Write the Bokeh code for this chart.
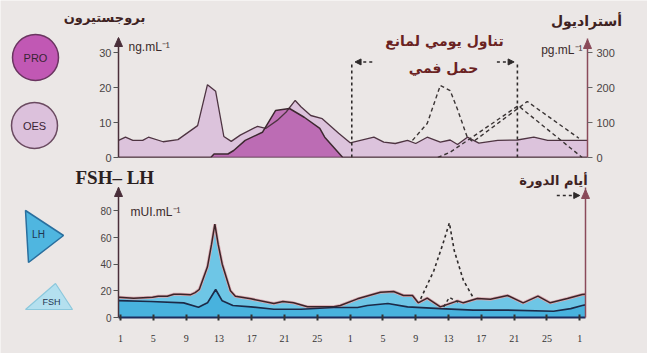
from bokeh.plotting import figure
from bokeh.layouts import column
from bokeh.models import Range1d, LinearAxis, FixedTicker, Arrow, NormalHead
from bokeh.core.properties import value
from bokeh.embed import file_html
from bokeh.resources import INLINE

# ---------------- data (continuous day index: 1..57 = two cycles + day 1) ----------------
oes_days = [0.76, 1.6, 2.5, 3.7, 4.4, 6.2, 8.0, 10.4, 11.6, 12.6, 13.6, 14.5, 15.6, 17.7, 18.7,
            20.1, 21.2, 22.3, 23.0, 24.2, 25.6, 27.6, 29.0, 31.9, 33.1, 34.5, 36.0, 37.0, 38.4,
            40.0, 41.2, 42.1, 43.3, 44.7, 47.0, 49.4, 51.4, 53.1, 58.0]
oes_pg = [49, 58, 49, 49, 58, 45, 51, 91, 208, 189, 60, 46, 64, 89, 83,
          106, 130, 163, 145, 120, 111, 69, 42, 58, 44, 40, 49, 40, 58,
          44, 50, 37, 58, 41, 49, 50, 58, 49, 49]

pro_days = [0.76, 12.0, 12.4, 14.1, 14.8, 16.2, 18.3, 19.9, 21.6, 23.4, 25.3, 25.9, 28.1, 58.0]
pro_ng = [0, 0, 1, 1, 2, 4.9, 7.2, 13.4, 14, 11.5, 8.3, 5.8, 0, 0]

# normal-cycle references (dashed)
de_days = [36.6, 38.4, 40.0, 41.2, 42.1, 43.3, 44.0, 50.6, 56.9]
de_pg = [49, 97, 206, 191, 137, 57, 45, 160, 55]
dp_days = [39.7, 41.2, 49.5, 57.3]
dp_ng = [0, 1.5, 14.8, 0]

pill_days = [29.2, 49.4]   # start / end of daily oral contraceptive intake
pill_top = 27.3

lh_days = [0.76, 2.6, 4.9, 5.6, 6.7, 7.5, 8.3, 9.5, 10.1, 10.6, 11.6, 12.1, 12.5, 12.9, 13.4,
           14.4, 15.0, 16.9, 19.7, 20.8, 22.1, 23.8, 27.0, 27.8, 29.9, 32.7, 34.3, 35.5, 36.6,
           37.3, 38.4, 40.0, 42.1, 42.8, 44.5, 46.1, 48.2, 50.1, 51.9, 53.4, 55.5, 57.3, 57.7]
lh = [15.2, 14.5, 15.2, 16, 16, 17.5, 17.5, 17, 18.7, 21, 38, 55, 70, 55, 40,
      20, 16, 14, 10.5, 12, 11, 8, 8, 9, 14, 19, 19.5, 16.5, 16.5,
      11, 14.5, 8, 12.5, 11, 14.2, 13.7, 16.5, 11, 16, 11, 14.2, 17.2, 17.5]

fsh_days = [0.76, 4.7, 8.7, 10.5, 11.6, 12.6, 13.4, 14.7, 16.9, 19.7, 23.0, 27.0, 29.9, 31.1,
            33.6, 36.0, 40.0, 44.0, 48.2, 53.8, 55.9, 57.3, 57.7]
fsh = [12.7, 12, 11, 7.7, 11, 21, 12.5, 9, 8, 6.2, 6.2, 7.5, 7.5, 9,
       10.5, 8, 6.7, 5.5, 5.5, 4.7, 6.7, 9, 9.5]

dlh_days = [37.6, 39.2, 40.3, 41.1, 41.7, 42.8, 44.0]
dlh = [14, 35, 55, 71, 50, 28, 15]
dfsh_days = [40.4, 41.1, 42.5]
dfsh = [8, 15, 10.5]

day_ticks = [1, 5, 9, 13, 17, 21, 25, 29, 33, 37, 41, 45, 49, 53, 57]
day_labels = ["1", "5", "9", "13", "17", "21", "25", "1", "5", "9", "13", "17", "21", "25", "1"]

# ---------------- style ----------------
BG = "#ebe7e6"
OES_FILL = "#dcc3dc"
PRO_FILL = "#b453a9"
DARK = "#3d2830"
AXC = "#4a2f3a"
RAX = "#8a4a5a"
TXT = "#3e2222"
RED = "#6a2222"
DSH = "#2e2a2a"
AR = "DejaVu Sans"

# ================= background / decoration layer (canvas pixels) =================
p0 = figure(width=647, height=353, x_range=Range1d(0, 647), y_range=Range1d(353, 0),
            output_backend="svg", toolbar_location=None, min_border=0, frame_align=False,
            background_fill_color=BG, border_fill_color=BG, outline_line_color=None)
p0.axis.visible = False
p0.grid.visible = False


def t(x, y, s, size, color=TXT, font=AR, style="bold", align="center"):
    p0.text(x=[x], y=[y], text=[s], text_font=value(font), text_font_size=size,
            text_font_style=style, text_color=color, text_align=align, text_baseline="middle")


# legend badges
p0.ellipse(x=[35], y=[57], width=46, height=46, fill_color="#c158b4", line_color="#6a3560", line_width=1.5)
p0.ellipse(x=[34], y=[125], width=46, height=46, fill_color="#dcc1dc", line_color="#6a4a60", line_width=1.5)
p0.patch([25, 63, 28], [210, 235, 262], fill_color="#4fb6e0", line_color="#2a6f9e", line_width=1.5)
p0.patch([55, 25, 72], [283, 309, 309], fill_color="#b4e0ef", line_color="#8cc8dc", line_width=1.2)
t(35, 57, "PRO", "11px", color="#3a2434", font="Liberation Sans", style="normal")
t(34, 125, "OES", "11px", color="#3a2434", font="Liberation Sans", style="normal")
t(38, 234, "LH", "10px", color="#1f3550", font="Liberation Sans", style="normal")
t(51, 301, "FSH", "9px", color="#1f3550", font="Liberation Sans", style="normal")

# axis arrow heads
p0.patch([114, 118, 122], [46, 37, 46], fill_color=AXC, line_color=AXC)
p0.patch([583, 587, 591], [48, 39, 48], fill_color=RAX, line_color=RAX)
p0.patch([114, 118, 122], [196, 187, 196], fill_color=AXC, line_color=AXC)
p0.patch([581, 585, 589], [198, 189, 198], fill_color=RAX, line_color=RAX)

# titles and units
t(104, 17, "بروجستيرون", "13px")
t(586, 20, "أستراديول", "14px")
t(444, 40, "تناول يومي لمانع", "14px", color=RED)
t(443, 67, "حمل فمي", "14px", color=RED)
t(128, 46, "ng.mL⁻¹", "12px", color="#3a2a2a", font="Liberation Sans", style="normal", align="left")
t(582, 49, "pg.mL⁻¹", "12px", color="#3a2a2a", font="Liberation Sans", style="normal", align="right")
t(75, 177, "FSH– LH", "19px", color="#2a2020", font="Liberation Serif", align="left")
t(130, 211, "mUI.mL⁻¹", "12px", color="#3a2a2a", font="Liberation Sans", style="normal", align="left")
t(553, 180, "أيام الدورة", "13px")

# ================= upper panel =================
p1 = figure(width=647, height=165, x_range=Range1d(0.75, 57.95), y_range=Range1d(0, 34),
            output_backend="svg", toolbar_location=None, frame_align=False,
            min_border_left=118, min_border_right=60, min_border_top=38, min_border_bottom=8,
            background_fill_alpha=0, border_fill_alpha=0, outline_line_color=None,
            styles={"margin-top": "-353px"})
p1.grid.visible = False
p1.xaxis.visible = False
p1.extra_y_ranges = {"oes": Range1d(0, 340)}

p1.varea(x=oes_days, y1=0, y2=oes_pg, y_range_name="oes", fill_color=OES_FILL, fill_alpha=1)
p1.varea(x=pro_days, y1=0, y2=pro_ng, fill_color=PRO_FILL, fill_alpha=0.78)
p1.line(oes_days, oes_pg, y_range_name="oes", line_color="#4e3442", line_width=1.3)
p1.line(pro_days, pro_ng, line_color=DARK, line_width=1.5)
p1.line(de_days, de_pg, y_range_name="oes", line_color="#3a3434", line_width=1.4, line_dash="4 3")
p1.line(dp_days, dp_ng, line_color="#3a3434", line_width=1.4, line_dash="4 3")
p1.segment(x0=pill_days, y0=[0, 0], x1=pill_days, y1=[pill_top, pill_top],
           line_color=DSH, line_width=1.6, line_dash="3 3")
p1.line(x=[0.75, 57.95], y=[0, 0], line_color=AXC, line_width=1.5)

ya = p1.yaxis[0]
ya.ticker = FixedTicker(ticks=[0, 10, 20, 30])
ya.axis_line_color = AXC
ya.axis_line_width = 1.5
ya.major_tick_line_color = "#555"
ya.major_tick_out = 5
ya.major_tick_in = 0
ya.minor_tick_line_color = None
ya.major_label_standoff = 2
ya.major_label_text_font = "Liberation Sans"
ya.major_label_text_font_size = "11px"
ya.major_label_text_color = "#4a4444"

ra = LinearAxis(y_range_name="oes", ticker=FixedTicker(ticks=[0, 100, 200, 300]),
                axis_line_color=RAX, axis_line_width=1.5, major_tick_line_color="#666",
                major_tick_out=5, major_tick_in=0, minor_tick_line_color=None,
                major_label_standoff=4, major_label_text_font="Liberation Sans",
                major_label_text_font_size="11px", major_label_text_color="#4a4444")
p1.add_layout(ra, "right")

p1.add_layout(Arrow(end=NormalHead(size=6, fill_color=DSH, line_color=DSH),
                    x_start=31.7, y_start=pill_top, x_end=29.6, y_end=pill_top,
                    line_color=DSH, line_width=1.4, line_dash="3 3"))
p1.add_layout(Arrow(end=NormalHead(size=6, fill_color=DSH, line_color=DSH),
                    x_start=46.9, y_start=pill_top, x_end=49.0, y_end=pill_top,
                    line_color=DSH, line_width=1.4, line_dash="3 3"))

# ================= lower panel =================
p2 = figure(width=647, height=188, x_range=Range1d(0.75, 57.7), y_range=Range1d(0, 97.5),
            output_backend="svg", toolbar_location=None, frame_align=False,
            min_border_left=118, min_border_right=62, min_border_top=22, min_border_bottom=36,
            background_fill_alpha=0, border_fill_alpha=0, outline_line_color=None)
p2.grid.visible = False

p2.varea(x=lh_days, y1=0, y2=lh, fill_color="#6ec6e6", fill_alpha=1)
p2.varea(x=fsh_days, y1=0, y2=fsh, fill_color="#48b2de", fill_alpha=1)
p2.line(lh_days, lh, line_color="#d9a8b0", line_width=3.0)
p2.line(lh_days, lh, line_color="#3b2428", line_width=1.5)
p2.line(fsh_days, fsh, line_color="#1c2a48", line_width=1.7)
p2.line(dlh_days, dlh, line_color=DSH, line_width=1.6, line_dash="3 3")
p2.line(dfsh_days, dfsh, line_color=DSH, line_width=1.4, line_dash="3 3")

xa = p2.xaxis[0]
xa.ticker = FixedTicker(ticks=day_ticks)
xa.major_label_overrides = {tk: s for tk, s in zip(day_ticks, day_labels)}
xa.axis_line_color = "#1c2d5e"
xa.axis_line_width = 2
xa.major_tick_line_color = "#333"
xa.major_tick_line_width = 2
xa.major_tick_in = 3
xa.major_tick_out = 3
xa.minor_tick_line_color = None
xa.major_label_standoff = 14
xa.major_label_text_font = "Liberation Serif"
xa.major_label_text_font_size = "10px"
xa.major_label_text_color = "#333"

yb = p2.yaxis[0]
yb.ticker = FixedTicker(ticks=[0, 20, 40, 60, 80])
yb.axis_line_color = AXC
yb.axis_line_width = 1.5
yb.major_tick_line_color = "#555"
yb.major_tick_out = 5
yb.major_tick_in = 0
yb.minor_tick_line_color = None
yb.major_label_standoff = 2
yb.major_label_text_font = "Liberation Sans"
yb.major_label_text_font_size = "10px"
yb.major_label_text_color = "#4a4444"

rb = LinearAxis(ticker=FixedTicker(ticks=[]), axis_line_color=RAX, axis_line_width=1.5,
                major_tick_line_color=None, minor_tick_line_color=None,
                major_label_text_font_size="0px")
p2.add_layout(rb, "right")

p2.add_layout(Arrow(end=NormalHead(size=6, fill_color=DSH, line_color=DSH),
                    x_start=54.2, y_start=91.5, x_end=57.0, y_end=91.5,
                    line_color=DSH, line_width=1.4, line_dash="3 3"))

layout = column(p0, p1, p2, spacing=0)
open("out.html", "w").write(file_html(layout, INLINE))
